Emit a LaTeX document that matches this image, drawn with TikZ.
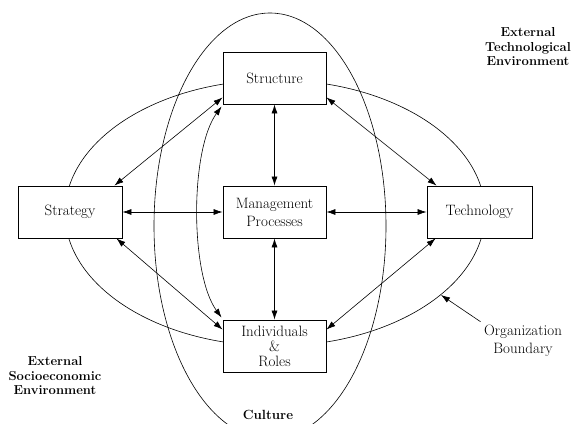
\documentclass[tikz,border=0pt]{standalone}
\usetikzlibrary{arrows.meta,calc}
\begin{document}
\begin{tikzpicture}[x=1pt,y=-1pt,
 box/.style={draw, line width=0.9pt, fill=white, minimum height=52pt, inner sep=0pt, align=center, font=\fontsize{15}{18}\selectfont},
 conn/.style={line width=0.6pt, {Latex[length=9pt,width=6pt]}-{Latex[length=9pt,width=6pt]}},
 bound/.style={line width=0.6pt},
 envlbl/.style={align=center, font=\fontsize{13}{14.5}\selectfont\bfseries}]
\useasboundingbox (0,0) rectangle (575,423);
\clip (0,0) rectangle (575,423);
% boundaries
\draw[bound] (270,226) ellipse [x radius=116, y radius=213];
\draw[bound] (275,213) ellipse [x radius=210, y radius=133];
% boxes
\node[box, minimum width=103pt] (S) at (274.5,78) {Structure};
\node[box, minimum width=103pt] (M) at (274.5,212) {Management\\Processes};
\node[box, minimum width=104pt] (L) at (70,212) {Strategy};
\node[box, minimum width=105pt] (T) at (479.5,212) {Technology};
\node[box, minimum width=103pt, font=\fontsize{15}{15}\selectfont] (I) at (274.5,346) {Individuals\\\&\\Roles};
% connectors
\draw[conn] (S) -- (M);
\draw[conn] (M) -- (I);
\draw[conn] (L) -- (M);
\draw[conn] (M) -- (T);
\draw[conn] ($(L.north east)+(-8,0)$) -- ($(S.south west)+(0,-7)$);
\draw[conn] ($(L.south east)+(-6,0)$) -- ($(I.north west)+(0,10)$);
\draw[conn] ($(T.north west)+(10,0)$) -- ($(S.south east)+(0,-7)$);
\draw[conn] ($(T.south west)+(9,0)$) -- ($(I.north east)+(0,10)$);
\draw[conn] ($(S.south west)+(-1,2)$) .. controls (190,150) and (190,274) .. ($(I.north west)+(-1,-2)$);
% labels
\node[envlbl] (ETE) at (528,47) {External\\Technological\\Environment};
\node[envlbl] (ESE) at (55,376) {External\\Socioeconomic\\Environment};
\node[font=\fontsize{13.3}{16}\selectfont\bfseries] (C) at (268,415) {Culture};
\node[align=center, font=\fontsize{15}{18}\selectfont] (OB) at (523,341) {Organization\\Boundary};
\coordinate (ob) at (441,295);
\draw[line width=0.6pt, -{Latex[length=9pt,width=6pt]}] (OB.north west) -- (ob);
\end{tikzpicture}
\end{document}
